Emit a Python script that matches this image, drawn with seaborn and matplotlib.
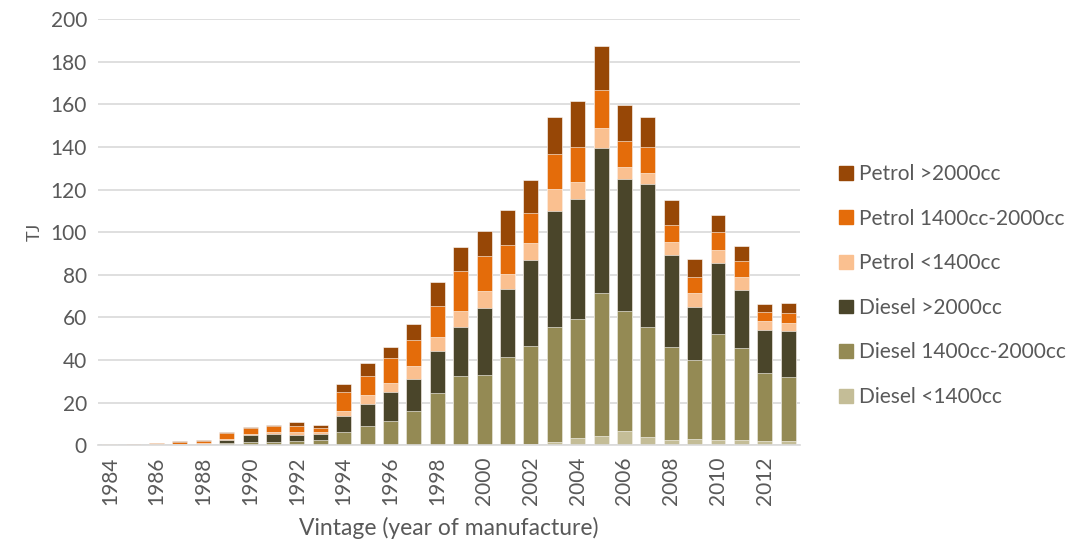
import numpy as np
import pandas as pd
import matplotlib
matplotlib.use('Agg')
import matplotlib.pyplot as plt
import matplotlib.patches as mpatches
import seaborn as sns

years = list(range(1984, 2014))

diesel_small = [0, 0, 0, 0, 0, 0, 0, 0, 0, 0, 0.2, 0.2, 0.2, 0.2, 0.2, 0.3, 0.3, 0.3,
                0.8, 1.4, 3.3, 4.2, 6.6, 3.9, 2.5, 3.1, 2.5, 2.3, 1.9, 1.9]
diesel_mid = [0.1, 0.0, 0.1, 0.1, 0.3, 0.9, 1.6, 1.6, 2.0, 2.3, 6.0, 8.7, 11.1, 15.8, 24.1,
              32.1, 32.7, 41.0, 45.7, 54.1, 56.0, 67.5, 56.3, 51.6, 43.5, 36.9, 49.9, 43.2,
              31.9, 30.2]
diesel_large = [0, 0, 0, 0.2, 0.5, 1.4, 3.0, 3.6, 2.7, 2.8, 7.4, 10.5, 13.6, 15.0, 20.1,
                23.1, 31.6, 31.9, 40.4, 54.5, 56.3, 67.9, 62.0, 67.0, 43.3, 24.9, 33.0,
                27.4, 20.3, 21.6]
petrol_small = [0.3, 0.1, 0.4, 0.4, 0.4, 0.5, 0.9, 1.1, 1.3, 1.1, 2.4, 4.2, 4.4, 6.4, 6.5,
                7.7, 8.0, 7.1, 7.9, 10.2, 8.0, 9.4, 5.8, 5.2, 5.9, 6.5, 6.3, 6.1, 4.3, 3.7]
petrol_mid = [0.1, 0.3, 0.4, 1.0, 0.9, 3.0, 2.7, 2.7, 3.0, 1.9, 8.9, 8.8, 11.7, 11.9, 14.5,
              18.5, 16.1, 13.6, 14.3, 16.4, 16.6, 17.7, 12.0, 12.5, 8.4, 7.8, 8.5, 7.4,
              4.0, 4.6]
petrol_large = [0, 0.1, 0.1, 0.3, 0.4, 0.2, 0.5, 0.5, 1.7, 1.3, 3.7, 6.1, 5.2, 7.8, 11.1,
                11.4, 12.1, 16.3, 15.3, 17.4, 21.3, 20.6, 17.1, 13.8, 11.6, 8.3, 7.9, 7.2,
                4.1, 4.7]

# bottom to top stacking order
series = ['Diesel <1400cc', 'Diesel 1400cc-2000cc', 'Diesel >2000cc',
          'Petrol <1400cc', 'Petrol 1400cc-2000cc', 'Petrol >2000cc']
values = [diesel_small, diesel_mid, diesel_large, petrol_small, petrol_mid, petrol_large]
colors = ['#C4BD97', '#948A54', '#4A452A', '#FAC090', '#E46C0A', '#974706']

sns.set_style('white')
plt.rcParams['font.family'] = ['Lato', 'DejaVu Sans']
txt = '#595959'

df = pd.DataFrame({'year': [str(y) for y in years]})
cum = np.zeros(len(years))
for name, v in zip(series, values):
    cum = cum + np.array(v)
    df[name] = cum

fig = plt.figure(figsize=(10.78, 5.49), dpi=100)
ax = fig.add_axes([0.091, 0.189, 0.651, 0.776])

# draw cumulative totals from the top layer down so each layer shows its own band
for name, c in zip(series[::-1], colors[::-1]):
    sns.barplot(data=df, x='year', y=name, color=c, width=0.64, ax=ax,
                edgecolor='white', linewidth=0.4, saturation=1, zorder=2)

ax.set_ylim(0, 200)
ax.set_xlim(-0.5, len(years) - 0.5)
ax.set_yticks(range(0, 201, 20))
ax.yaxis.grid(True, color='#D9D9D9', linewidth=1.2, zorder=0)
ax.set_axisbelow(True)
for s in ['top', 'right', 'left']:
    ax.spines[s].set_visible(False)
ax.spines['bottom'].set_color('#D9D9D9')
ax.spines['bottom'].set_linewidth(1.2)

ax.set_xticks(range(0, len(years), 2))
ax.set_xticklabels([str(y) for y in years[::2]], rotation=90)
ax.tick_params(axis='both', length=0, labelsize=15, colors=txt, pad=8)
ax.set_xlabel('Vintage (year of manufacture)', fontsize=16.5, color=txt, labelpad=9)
ax.set_ylabel('TJ', fontsize=13, color=txt, labelpad=6)

handles = [mpatches.Patch(color=c, label=n) for n, c in zip(series, colors)][::-1]
fig.legend(handles=handles, loc='center left', bbox_to_anchor=(0.761, 0.48),
           frameon=False, fontsize=15, labelcolor=txt, handlelength=0.65,
           handleheight=0.65, handletextpad=0.3, labelspacing=1.18)

fig.savefig('out.png', dpi=100)
plt.close(fig)
